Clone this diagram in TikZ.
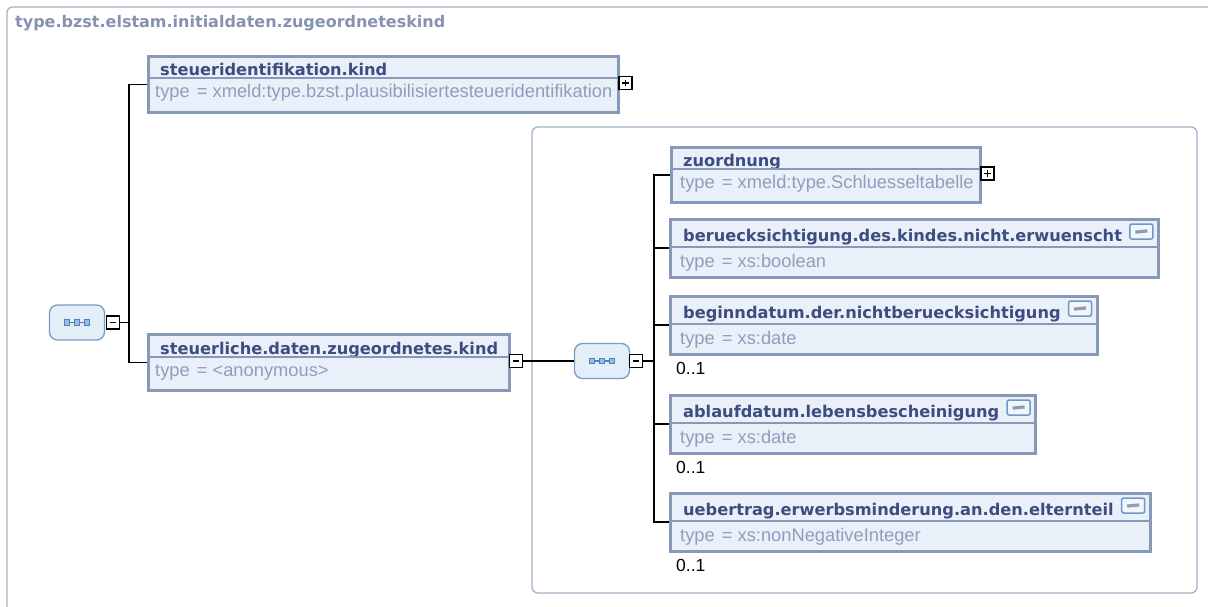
\documentclass[tikz,border=0pt]{standalone}
\usepackage{fontspec}
\setmainfont{DejaVu Sans}
\newfontfamily\typefont{Liberation Sans}
\usetikzlibrary{fit,backgrounds,calc}
\definecolor{framecol}{HTML}{A3B1C8}
\definecolor{boxedge}{HTML}{8898B8}
\definecolor{boxfill}{HTML}{E9F0F9}
\definecolor{nametxt}{HTML}{3E4D7E}
\definecolor{typetxt}{HTML}{909EBB}
\definecolor{titletxt}{HTML}{8593B0}
\definecolor{seqedge}{HTML}{7A9CC4}
\definecolor{seqfill}{HTML}{E4EEF8}
\definecolor{seqdot}{HTML}{4C83BE}
\definecolor{iconedge}{HTML}{6F97C4}
\definecolor{iconfill}{HTML}{F2F6FB}
\definecolor{iconbar}{HTML}{8E9CB4}
\tikzset{
  elem/.style={draw=boxedge, line width=3pt, fill=boxfill, inner sep=0pt, rectangle},
  nm/.style={inner sep=0pt, anchor=base west, text=nametxt, font=\fontsize{16.2}{19}\selectfont\bfseries},
  ty/.style={inner sep=0pt, anchor=base west, text=typetxt, font=\typefont\fontsize{18.3}{21}\selectfont},
  occ/.style={inner sep=0pt, anchor=base west, text=black, font=\typefont\fontsize{17.5}{20}\selectfont},
  titlestyle/.style={inner sep=0pt, anchor=base west, text=titletxt, font=\fontsize{16}{19}\selectfont\bfseries},
  divider/.style={draw=boxedge, line width=1.5pt},
  conn/.style={draw=black, line width=1.5pt},
  framestyle/.style={draw=framecol, line width=1.3pt},
  pm/.style={draw=black, fill=white, line width=1.4pt, minimum size=13pt, inner sep=0pt},
  minusbox/.style={pm, path picture={\draw[line width=1.7pt] ([xshift=-3.4pt]path picture bounding box.center) -- ([xshift=3.4pt]path picture bounding box.center);}},
  plusbox/.style={pm, path picture={\draw[line width=1.7pt] ([xshift=-3.4pt]path picture bounding box.center) -- ([xshift=3.4pt]path picture bounding box.center) ([yshift=-3.4pt]path picture bounding box.center) -- ([yshift=3.4pt]path picture bounding box.center);}},
  seqbox/.style={draw=seqedge, fill=seqfill, line width=1.3pt, rounded corners=8pt, minimum width=55pt, minimum height=35pt, inner sep=0pt,
    path picture={
      \draw[seqdot, line width=1.2pt, sharp corners] ([xshift=-10pt]path picture bounding box.center) -- ([xshift=10pt]path picture bounding box.center);
      \foreach \dx in {-10,0,10}{
        \filldraw[draw=seqdot, fill=seqdot!55, line width=1.1pt, sharp corners] ([xshift=\dx pt]path picture bounding box.center) +(-2.7,-2.7) rectangle +(2.7,2.7);
      }
    }},
  docicon/.style={draw=iconedge, fill=iconfill, line width=1.5pt, rounded corners=2pt, minimum width=23pt, minimum height=15pt, inner sep=0pt,
    path picture={\draw[line width=3.2pt, draw=iconbar, sharp corners] ([xshift=-6pt,yshift=-0.6pt]path picture bounding box.center) -- ([xshift=6pt,yshift=0.6pt]path picture bounding box.center);}},
}
% element with documentation icon: id, x, top, name, type
\newcommand\elicon[5]{%
  \node[nm] (#1n) at (#2+13,#3+22) {#4};
  \node[ty] (#1t) at (#2+10,#3+48) {#5};
  \coordinate (#1iy) at (0,#3+12.5);
  \path (#1n.east) ++(7,0) coordinate (#1ix);
  \node[docicon, anchor=west] (#1i) at (#1ix |- #1iy) {};
  \path (#1i.east) ++(5,0) coordinate (#1rx);
  \coordinate (#1by) at (0,#3+58);
  \coordinate (#1tl) at (#2,#3);
  \coordinate (#1br) at (#1rx |- #1by);
  \begin{scope}[on background layer]
    \node[elem, fit=(#1tl)(#1br)] (#1) {};
  \end{scope}
  \coordinate (#1dy) at (0,#3+28);
  \draw[divider] (#1tl |- #1dy) -- (#1br |- #1dy);
}
\begin{document}
\begin{tikzpicture}[x=1pt,y=-1pt]
\useasboundingbox (0,0) rectangle (1208,606);
\begin{scope}[on background layer]
  \clip (0,0) rectangle (1208,606);
  \fill[white] (0,0) rectangle (1208,606);
  \draw[framestyle, rounded corners=5pt] (7,7) rectangle (1240,640);
  \draw[framestyle, rounded corners=6pt] (532,127) rectangle (1197,593);
\end{scope}

\node[titlestyle] (title) at (15,27) {type.bzst.elstam.initialdaten.zugeordneteskind};

% root sequence
\node[seqbox] (seq1) at (77,322.5) {};
\node[minusbox] (m1) at (113,322.5) {};
\coordinate (j1) at (129,322.5);

% steueridentifikation.kind
\node[nm] (n1n) at (160,75) {steueridentifikation.kind};
\node[ty] (n1t) at (155,97) {type\hspace{2pt} = xmeld:type.bzst.plausibilisiertesteueridentifikation};
\begin{scope}[on background layer]
  \node[elem, anchor=north west, minimum width=470pt, minimum height=56pt] (n1) at (147,55) {};
\end{scope}
\draw[divider] (147,78) -- (617,78);
\node[plusbox] (p1) at (625.5,83) {};

% steuerliche.daten.zugeordnetes.kind
\node[nm] (n2n) at (160,354) {steuerliche.daten.zugeordnetes.kind};
\node[ty] (n2t) at (155,376) {type\hspace{2pt} = <anonymous>};
\begin{scope}[on background layer]
  \node[elem, anchor=north west, minimum width=361pt, minimum height=56pt] (n2) at (147,333) {};
\end{scope}
\draw[divider] (147,357) -- (508,357);
\node[minusbox] (m2) at (516,361) {};

% inner sequence
\node[seqbox] (seq2) at (602,361) {};
\node[minusbox] (m3) at (636,361) {};
\coordinate (j2) at (654,361);

% zuordnung
\node[nm] (zn) at (683,166) {zuordnung};
\node[ty] (zt) at (680,188) {type\hspace{2pt} = xmeld:type.Schluesseltabelle};
\begin{scope}[on background layer]
  \node[elem, anchor=north west, minimum width=309pt, minimum height=55pt] (z) at (670,146) {};
\end{scope}
\draw[divider] (670,169) -- (979,169);
\node[plusbox] (p2) at (987.5,173.5) {};

\elicon{b}{670}{219}{beruecksichtigung.des.kindes.nicht.erwuenscht}{type\hspace{2pt} = xs:boolean}
\elicon{c}{670}{296}{beginndatum.der.nichtberuecksichtigung}{type\hspace{2pt} = xs:date}
\elicon{d}{670}{395}{ablaufdatum.lebensbescheinigung}{type\hspace{2pt} = xs:date}
\elicon{e}{670}{493}{uebertrag.erwerbsminderung.an.den.elternteil}{type\hspace{2pt} = xs:nonNegativeInteger}

\node[occ] (oc) at (676,374) {0..1};
\node[occ] (od) at (676,473) {0..1};
\node[occ] (oe) at (676,571) {0..1};

% connectors
\draw[conn] (m1.east) -- (j1);
\draw[conn] (n1.west) -| (j1) |- (n2.west);
\draw[conn] (m2.east) -- (seq2.west);
\draw[conn] (m3.east) -- (j2);
\draw[conn] (z.west) -| (j2) |- (e.west);
\foreach \k in {b,c,d}{
  \draw[conn] (\k.west) -- (\k.west -| j2);
}
\end{tikzpicture}
\end{document}
